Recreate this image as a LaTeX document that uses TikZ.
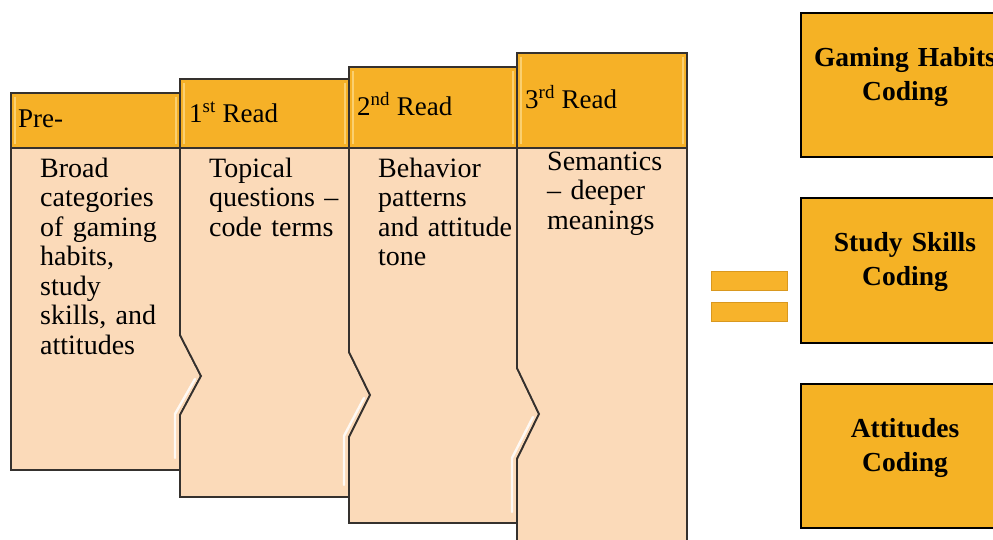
\documentclass[tikz,border=0pt]{standalone}
\usepackage{fontspec}
\setmainfont{Liberation Serif}
\definecolor{hdr}{HTML}{F6B127}
\definecolor{hdrglow}{HTML}{FBD070}
\definecolor{panelfill}{HTML}{FBDAB9}
\definecolor{edge}{HTML}{35312E}
\definecolor{codefill}{HTML}{F5B225}
\definecolor{eqfill}{HTML}{F7B32B}
\definecolor{eqedge}{HTML}{D9981F}
\begin{document}
\begin{tikzpicture}[x=1pt,y=-1pt,
  panelbody/.style={fill=panelfill, draw=edge, line width=1.8pt, line join=miter},
  panelhead/.style={fill=hdr, draw=edge, line width=1.2pt},
  headglow/.style={draw=hdrglow, line width=1.4pt},
  bevel/.style={draw=white, line width=2.4pt, opacity=0.85, line cap=round},
  headtext/.style={anchor=base west, inner sep=0pt, font=\fontsize{27}{30}\selectfont},
  bodytext/.style={anchor=base west, inner sep=0pt, text width=150pt, align=left,
                   font=\fontsize{28}{29.5}\selectfont},
  codebox/.style={fill=codefill, draw=black, line width=2.4pt},
  codetext/.style={anchor=base, inner sep=0pt, text width=240pt, align=center,
                   font=\fontsize{27.5}{34}\selectfont\bfseries},
  eqbar/.style={fill=eqfill, draw=eqedge, line width=0.8pt}]
\useasboundingbox (0,0) rectangle (993,539);
\clip (0,0) rectangle (993,539);

% ---- reading stages: bodies with interlocking notches ----
\path[panelbody] (11,148) -- (180,148) -- (180,335) -- (201,376) -- (180,415)
  -- (180,470) -- (11,470) -- cycle;
\path[bevel] (195,379) -- (175,414) -- (175,458);
\path[panelbody] (180,148) -- (349,148) -- (349,352) -- (370,395) -- (349,437)
  -- (349,497) -- (180,497) -- (180,415) -- (201,376) -- (180,335) -- cycle;
\path[bevel] (364,398) -- (344,436) -- (344,485);
\path[panelbody] (349,148) -- (517,148) -- (517,368) -- (539,414) -- (517,459)
  -- (517,523) -- (349,523) -- (349,437) -- (370,395) -- (349,352) -- cycle;
\path[bevel] (533,417) -- (512,458) -- (512,512);
\path[panelbody] (517,148) -- (687,148) -- (687,560) -- (517,560) -- (517,459)
  -- (539,414) -- (517,368) -- cycle;

% ---- stage headers ----
\path[panelhead] (11,93) rectangle (180,148);
\path[headglow] (15,97) -- (15,144) (176,97) -- (176,144);
\path[panelhead] (180,79) rectangle (349,148);
\path[headglow] (184,83) -- (184,144) (345,83) -- (345,144);
\path[panelhead] (349,67) rectangle (517,148);
\path[headglow] (353,71) -- (353,144) (513,71) -- (513,144);
\path[panelhead] (517,53) rectangle (687,148);
\path[headglow] (521,57) -- (521,144) (683,57) -- (683,144);

\node[headtext] (h0) at (18,127) {Pre-};
\node[headtext] (h1) at (189,122) {1\textsuperscript{st} Read};
\node[headtext] (h2) at (357,115) {2\textsuperscript{nd} Read};
\node[headtext] (h3) at (525,108) {3\textsuperscript{rd} Read};

\node[bodytext] (b0) at (40,177) {Broad\\categories\\of gaming\\habits,\\study\\skills, and\\attitudes};
\node[bodytext] (b1) at (209,177) {Topical\\questions --\\code terms};
\node[bodytext] (b2) at (378,177) {Behavior\\patterns\\and attitude\\tone};
\node[bodytext] (b3) at (547,170) {Semantics\\-- deeper\\meanings};

% ---- equals sign ----
\path[eqbar] (711,271) rectangle (787,290);
\path[eqbar] (711,302) rectangle (787,321);

% ---- resulting codes ----
\path[codebox] (801,13) rectangle (1009,157);
\path[codebox] (801,198) rectangle (1009,343);
\path[codebox] (801,384) rectangle (1009,528);
\node[codetext] (c0) at (905,66) {Gaming Habits\\Coding};
\node[codetext] (c1) at (905,251) {Study Skills\\Coding};
\node[codetext] (c2) at (905,437) {Attitudes\\Coding};
\end{tikzpicture}
\end{document}
